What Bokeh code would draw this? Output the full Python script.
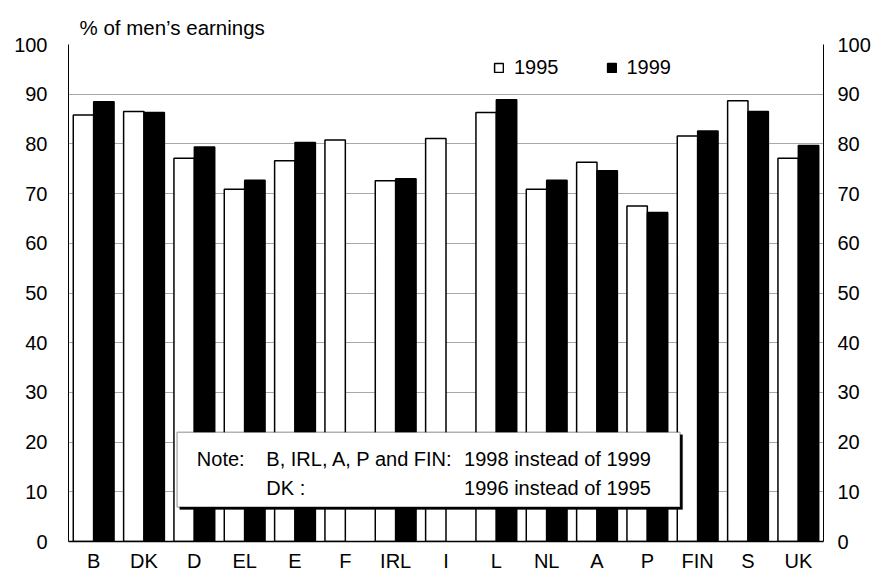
from bokeh.plotting import figure
from bokeh.models import (ColumnDataSource, Range1d, LinearAxis, FixedTicker,
                          BoxAnnotation, Label, Legend, LegendItem, Title)
from bokeh.embed import file_html
from bokeh.resources import INLINE

nan = float("nan")

# ---- data ----
countries = ["B", "DK", "D", "EL", "E", "F", "IRL", "I", "L", "NL", "A", "P", "FIN", "S", "UK"]
y1995 = [85.8, 86.5, 77.1, 70.9, 76.6, 80.8, 72.6, 81.1, 86.3, 70.9, 76.3, 67.5, 81.6, 88.7, 77.1]
y1999 = [88.5, 86.3, 79.4, 72.7, 80.3, nan, 73.0, nan, 88.9, 72.7, 74.6, 66.2, 82.6, 86.5, 79.7]
y_ticks = [0, 10, 20, 30, 40, 50, 60, 70, 80, 90, 100]
series_names = ["1995", "1999"]
y_title = "% of men\u2019s earnings"
note_lines = [("Note:", "B, IRL, A, P and FIN:", "1998 instead of 1999"),
              ("", "DK :", "1996 instead of 1995")]

FONT = "Liberation Sans"
FS = "20px"

bw = 0.405
idx = list(range(len(countries)))
src = ColumnDataSource(dict(
    x1=[i + 0.5 - bw / 2 for i in idx],
    x2=[i + 0.5 + bw / 2 for i in idx],
    y1995=y1995, y1999=y1999))

p = figure(width=873, height=574, output_backend="svg", toolbar_location=None,
           x_range=Range1d(0, len(countries)), y_range=Range1d(0, 100),
           min_border_left=68, min_border_right=47, min_border_top=44, min_border_bottom=32)
p.outline_line_color = None
p.background_fill_color = "white"
p.border_fill_color = "white"

p.title = Title(text=y_title, align="left", offset=11, standoff=12,
                text_font=FONT, text_font_size="20.5px", text_font_style="normal",
                text_color="black")

r1 = p.vbar(x="x1", top="y1995", width=bw, source=src, fill_color="white",
            line_color="black", line_width=1.5)
r2 = p.vbar(x="x2", top="y1999", width=bw, source=src, fill_color="black",
            line_color="black", line_width=1.5)

# axes
yt = FixedTicker(ticks=y_ticks)
p.yaxis[0].ticker = yt
p.yaxis[0].major_label_standoff = 21
p.add_layout(LinearAxis(ticker=yt, major_label_standoff=14), "right")
for ax in p.yaxis:
    ax.axis_line_color = "black"
    ax.axis_line_width = 1
    ax.major_tick_out = 0
    ax.major_tick_in = 0
    ax.minor_tick_out = 0
    ax.minor_tick_in = 0
    ax.major_tick_line_color = None
    ax.minor_tick_line_color = None
    ax.major_label_text_font = FONT
    ax.major_label_text_font_size = FS
    ax.major_label_text_color = "black"

xa = p.xaxis[0]
xa.ticker = FixedTicker(ticks=[i + 0.5 for i in idx])
xa.major_label_overrides = {i + 0.5: c for i, c in zip(idx, countries)}
xa.major_tick_out = 0
xa.major_tick_in = 0
xa.minor_tick_out = 0
xa.minor_tick_in = 0
xa.major_tick_line_color = None
xa.minor_tick_line_color = None
xa.axis_line_color = "black"
xa.axis_line_width = 1.5
xa.major_label_standoff = 8
xa.major_label_text_font = FONT
xa.major_label_text_font_size = FS
xa.major_label_text_color = "black"

p.xgrid.grid_line_color = None
p.ygrid.ticker = yt
p.ygrid.grid_line_color = "#a8a8a8"
p.ygrid.grid_line_width = 1

# legend
legend = Legend(items=[LegendItem(label=series_names[0], renderers=[r1]),
                       LegendItem(label=series_names[1], renderers=[r2])],
                orientation="horizontal", location=(425, 462),
                glyph_width=11, glyph_height=11, label_height=11,
                label_standoff=10, spacing=47,
                padding=0, margin=0, border_line_color=None,
                background_fill_alpha=0,
                label_text_font=FONT, label_text_font_size=FS,
                label_text_color="black")
p.add_layout(legend, "center")

# note box
p.add_layout(BoxAnnotation(left=2.21, right=12.2, bottom=6.45, top=21.5,
                           fill_color="black", fill_alpha=1, line_color="black",
                           line_width=1, level="annotation"))
p.add_layout(BoxAnnotation(left=2.157, right=12.15, bottom=6.93, top=22.0,
                           fill_color="white", fill_alpha=1, line_color="black",
                           line_width=1.5, level="annotation"))
cols_x = [2.55, 3.93, 7.86]
rows_y = [16.55, 10.75]
for line, yy in zip(note_lines, rows_y):
    for txt, xx in zip(line, cols_x):
        if txt:
            p.add_layout(Label(x=xx, y=yy, text=txt, text_font=FONT, text_font_size=FS,
                               text_color="black", text_baseline="alphabetic"))

open("out.html", "w").write(file_html(p, INLINE))
